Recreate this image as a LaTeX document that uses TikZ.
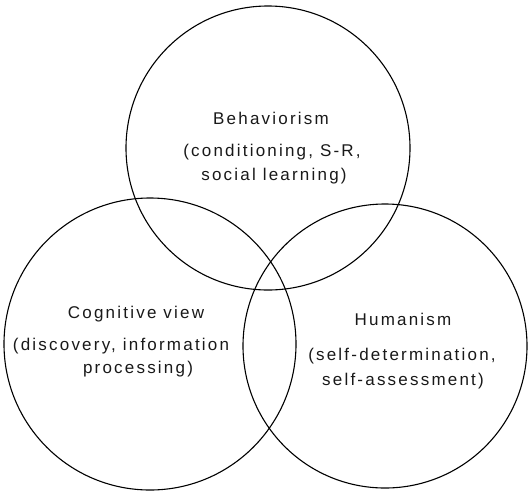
\documentclass[tikz,border=0pt]{standalone}
\usepackage{fontspec}
\newfontfamily\lblfont{Liberation Sans}[LetterSpace=13]
\begin{document}
\begin{tikzpicture}[x=1pt,y=-1pt,
  circ/.style={draw=black, line width=1.1pt, circle, inner sep=0pt},
  lbl/.style={font=\lblfont\fontsize{17}{20}\selectfont, text=black!90, inner sep=0pt, anchor=base}]
\useasboundingbox[fill=white] (0,0) rectangle (529,491);
% circles
\node[circ, minimum size=284pt] (beh) at (268,148) {};
\node[circ, minimum size=292pt] (cog) at (150,344) {};
\node[circ, minimum size=284pt] (hum) at (385,346) {};
% Behaviorism
\node[lbl] (b1) at (271,124) {Behaviorism};
\node[lbl] (b2) at (272,156) {(conditioning, S-R,};
\node[lbl] (b3) at (274,180) {social learning)};
% Cognitive view
\node[lbl] (c1) at (136,318) {Cognitive view};
\node[lbl] (c2) at (121,350) {(discovery, information};
\node[lbl] (c3) at (138,373) {processing)};
% Humanism
\node[lbl] (h1) at (403,325) {Humanism};
\node[lbl] (h2) at (402,360) {(self-determination,};
\node[lbl] (h3) at (403,385) {self-assessment)};
\end{tikzpicture}
\end{document}
